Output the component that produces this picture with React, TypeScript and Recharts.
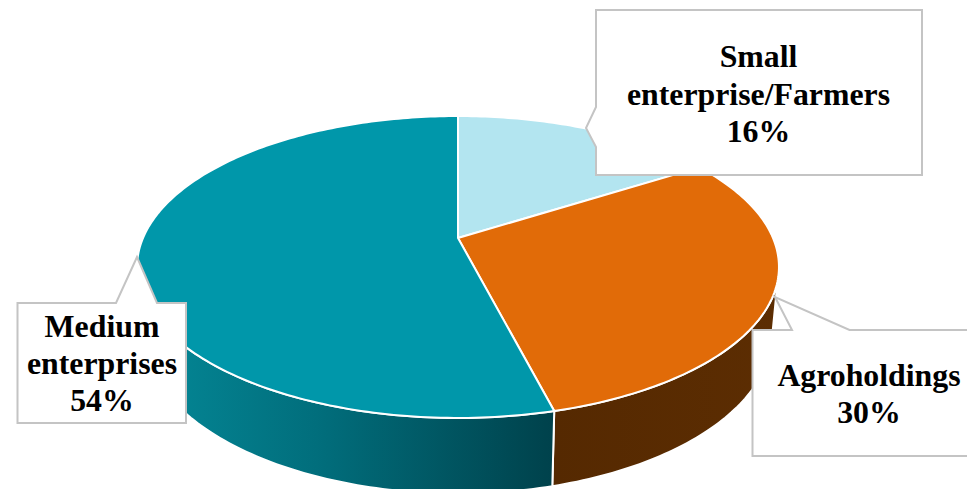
import { Pie, PieChart } from 'recharts';

const categories = ['Small enterprise/Farmers', 'Agroholdings', 'Medium enterprises'];
const shares = [16, 30, 54];
const topColors = ['#b3e5f0', '#e16b08', '#0097aa'];
const sideFills = ['#b3e5f0', 'url(#sideBrown)', 'url(#sideTeal)'];
const labelLines = [['Small', 'enterprise/Farmers'], ['Agroholdings'], ['Medium', 'enterprises']];

const rows = categories.map((name, i) => ({ name, value: shares[i], fill: topColors[i], sideFill: sideFills[i], lines: labelLines[i] }));

// disc perspective: far edge shrinks, near edge grows
const TILT = 0.4616;
const PERSPECTIVE = 0.192;
const DEPTH = 64;
const BASE_SCALE = 0.98;
// clock angles where the rim turns away from the viewer
const RIM_FROM = 101;
const RIM_TO = 259;

function project(clock: number, cx: number, cy: number, r: number, base = false) {
   const rad = (clock * Math.PI) / 180;
   const u = Math.sin(rad);
   const v = Math.cos(rad);
   const w = 1 + PERSPECTIVE * v;
   const s = base ? BASE_SCALE : 1;
   return {
      x: cx + (s * r * u) / w,
      y: cy - (s * r * TILT * v) / w + (base ? DEPTH / w : 0),
   };
}

function arc(from: number, to: number, cx: number, cy: number, r: number, base = false) {
   const pts = [];
   const steps = Math.max(2, Math.ceil(Math.abs(to - from)));
   for (let i = 0; i <= steps; i++) {
      const p = project(from + ((to - from) * i) / steps, cx, cy, r, base);
      pts.push(`${p.x.toFixed(2)} ${p.y.toFixed(2)}`);
   }
   return pts;
}

function Wedge(props: any) {
   const { cx, cy, outerRadius, startAngle, endAngle, fill, payload } = props;
   const from = 90 - startAngle;
   const to = 90 - endAngle;
   const rimFrom = Math.max(from, RIM_FROM);
   const rimTo = Math.min(to, RIM_TO);
   const top = arc(from, to, cx, cy, outerRadius);
   return (
      <g>
         {rimTo > rimFrom && (
            <path
               d={`M${arc(rimFrom, rimTo, cx, cy, outerRadius).join('L')}L${arc(rimTo, rimFrom, cx, cy, outerRadius, true).join('L')}Z`}
               fill={payload.sideFill ?? fill}
               stroke="#fff"
               strokeWidth={2}
            />
         )}
         <path d={`M${cx} ${cy}L${top.join('L')}Z`} fill={fill} stroke="#fff" strokeWidth={2} strokeLinejoin="round" />
      </g>
   );
}

// callout outlines with their pointers, in chart pixels
const calloutPaths = [
   'M596 10H922V175H596V147L586 128L596 107Z',
   'M752.5 330H792L775 297L849.5 330H1000V456H752.5Z',
   'M17.5 303H116L137 257L157 303H186V423H17.5Z',
];
const calloutText = [
   { x: 758.5, y: 67, gap: 37.5 },
   { x: 869, y: 386, gap: 37 },
   { x: 102, y: 337, gap: 37 },
];

function Callout(props: any) {
   const { index, payload } = props;
   const at = calloutText[index];
   const lines = [...payload.lines, `${payload.value}%`];
   return (
      <g>
         <path d={calloutPaths[index]} fill="#fff" stroke="#c4c4c4" strokeWidth={2} />
         <text x={at.x} y={at.y} textAnchor="middle" fontFamily="'Liberation Serif', serif" fontWeight="bold" fontSize={31.8} fill="#000">
            {lines.map((line: string, i: number) => (
               <tspan key={i} x={at.x} y={at.y + i * at.gap}>{line}</tspan>
            ))}
         </text>
      </g>
   );
}

export default function App() {
   return (
      <div style={{ position: 'absolute', left: 0, top: 0 }}>
         <PieChart width={967} height={489} margin={{ top: 0, right: 0, bottom: 0, left: 0 }}>
            <defs>
               <linearGradient id="sideTeal" gradientUnits="userSpaceOnUse" x1="137" y1="0" x2="551" y2="0">
                  <stop offset="0%" stopColor="#048998" />
                  <stop offset="45%" stopColor="#016d7b" />
                  <stop offset="100%" stopColor="#00424c" />
               </linearGradient>
               <linearGradient id="sideBrown" gradientUnits="userSpaceOnUse" x1="551" y1="0" x2="779" y2="0">
                  <stop offset="0%" stopColor="#552901" />
                  <stop offset="100%" stopColor="#5c2d02" />
               </linearGradient>
            </defs>
            <Pie
               data={rows}
               dataKey="value"
               nameKey="name"
               cx={458}
               cy={238}
               outerRadius={315}
               startAngle={90}
               endAngle={-270}
               stroke="none"
               shape={Wedge}
               label={Callout}
               labelLine={false}
               isAnimationActive={false}
            />
         </PieChart>
      </div>
   );
}
